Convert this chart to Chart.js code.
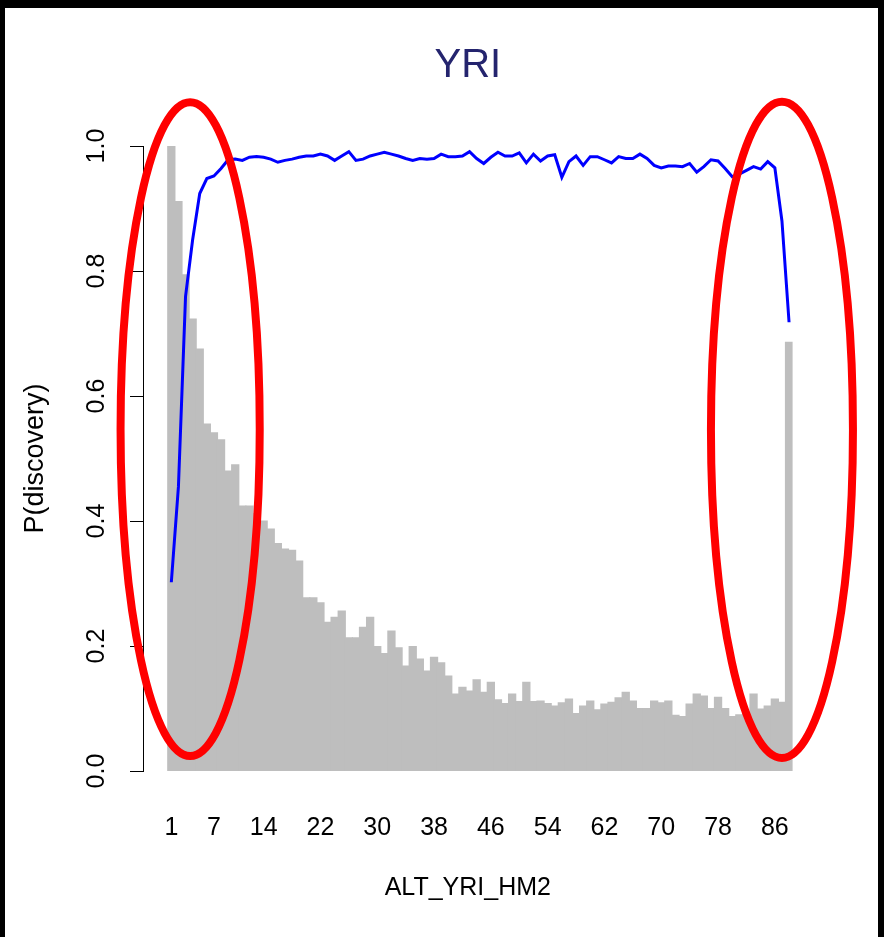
<!DOCTYPE html>
<html>
<head>
<meta charset="utf-8">
<script src="https://cdn.jsdelivr.net/npm/chart.js@4.4.1/dist/chart.umd.min.js"></script>
<style>
  html, body { margin: 0; padding: 0; background: #000; }
  #box { width: 884px; height: 937px; }
</style>
</head>
<body>
<div id="box"><canvas id="chart" width="884" height="937"></canvas></div>
<script>
// allele count bins (x) and the two series drawn over them
const bins = [
   1,  2,  3,  4,  5,  6,  7,  8,  9, 10, 11, 12, 13, 14, 15, 16, 17, 18, 19, 20, 21, 22,
  23, 24, 25, 26, 27, 28, 29, 30, 31, 32, 33, 34, 35, 36, 37, 38, 39, 40, 41, 42, 43, 44,
  45, 46, 47, 48, 49, 50, 51, 52, 53, 54, 55, 56, 57, 58, 59, 60, 61, 62, 63, 64, 65, 66,
  67, 68, 69, 70, 71, 72, 73, 74, 75, 76, 77, 78, 79, 80, 81, 82, 83, 84, 85, 86, 87, 88
];

// gray histogram (relative frequency)
const barValues = [
  1.000, 0.911, 0.794, 0.723, 0.675, 0.555, 0.541, 0.530, 0.480, 0.490, 0.424, 0.424,
  0.412, 0.400, 0.387, 0.364, 0.355, 0.353, 0.336, 0.277, 0.277, 0.269, 0.238, 0.246,
  0.256, 0.213, 0.213, 0.230, 0.246, 0.199, 0.188, 0.224, 0.197, 0.168, 0.199, 0.179,
  0.160, 0.182, 0.173, 0.152, 0.123, 0.134, 0.128, 0.146, 0.126, 0.142, 0.114, 0.108,
  0.123, 0.111, 0.142, 0.111, 0.112, 0.108, 0.104, 0.109, 0.115, 0.092, 0.104, 0.112,
  0.098, 0.107, 0.110, 0.117, 0.126, 0.112, 0.100, 0.100, 0.112, 0.109, 0.112, 0.089,
  0.087, 0.107, 0.123, 0.120, 0.100, 0.118, 0.100, 0.087, 0.090, 0.095, 0.123, 0.099,
  0.104, 0.115, 0.110, 0.686
];

// blue curve: P(discovery)
const discovery = [
  0.302, 0.455, 0.759, 0.850, 0.924, 0.948, 0.952, 0.964, 0.978, 0.979, 0.977, 0.982,
  0.983, 0.982, 0.979, 0.974, 0.977, 0.979, 0.982, 0.984, 0.984, 0.987, 0.984, 0.977,
  0.984, 0.991, 0.977, 0.979, 0.984, 0.987, 0.990, 0.987, 0.984, 0.980, 0.977, 0.980,
  0.979, 0.980, 0.987, 0.983, 0.983, 0.984, 0.991, 0.980, 0.972, 0.982, 0.990, 0.984,
  0.984, 0.989, 0.973, 0.987, 0.976, 0.984, 0.986, 0.950, 0.975, 0.984, 0.969, 0.983,
  0.983, 0.978, 0.973, 0.983, 0.980, 0.980, 0.987, 0.980, 0.969, 0.965, 0.968, 0.968,
  0.967, 0.972, 0.958, 0.967, 0.978, 0.976, 0.964, 0.951, 0.955, 0.961, 0.967, 0.963,
  0.975, 0.965, 0.880, 0.718
];

const xTickLabels = [1, 7, 14, 22, 30, 38, 46, 54, 62, 70, 78, 86];
const yTickLabels = [0, 0.2, 0.4, 0.6, 0.8, 1.0];

// red rings around both tails, in axis units: centre (x, y), radii (rx in bins, ry in P)
const rings = [
  { x: 3.65, y: 0.547, rx: 9.8, ry: 0.523 },
  { x: 87.0, y: 0.546, rx: 10.0, ry: 0.525 }
];

const FONT = "'Liberation Sans', Arial, sans-serif";

const framePlugin = {
  id: 'frame',
  beforeDraw(chart) {
    const ctx = chart.ctx;
    ctx.save();
    ctx.fillStyle = '#000';
    ctx.fillRect(0, 0, chart.width, chart.height);
    ctx.fillStyle = '#fff';
    ctx.fillRect(5, 8, chart.width - 11, chart.height - 8);
    ctx.restore();
  }
};

const ringPlugin = {
  id: 'rings',
  afterDraw(chart) {
    const ctx = chart.ctx;
    const xs = chart.scales.x, ys = chart.scales.y;
    ctx.save();
    ctx.strokeStyle = '#ff0000';
    ctx.lineWidth = 8;
    rings.forEach(r => {
      const cx = xs.getPixelForValue(r.x);
      const cy = ys.getPixelForValue(r.y);
      const rx = Math.abs(xs.getPixelForValue(r.x + r.rx) - cx);
      const ry = Math.abs(ys.getPixelForValue(r.y + r.ry) - cy);
      ctx.beginPath();
      ctx.ellipse(cx, cy, rx, ry, 0, 0, Math.PI * 2);
      ctx.stroke();
    });
    ctx.restore();
  }
};

new Chart(document.getElementById('chart'), {
  type: 'bar',
  data: {
    datasets: [
      {
        type: 'line',
        data: bins.map((b, i) => ({ x: b, y: discovery[i] })),
        borderColor: '#0000ff',
        borderWidth: 3,
        pointRadius: 0,
        fill: false,
        tension: 0,
        order: 0
      },
      {
        type: 'bar',
        data: bins.map((b, i) => ({ x: b, y: barValues[i] })),
        backgroundColor: '#bebebe',
        borderWidth: 0,
        inflateAmount: 0.6,
        barPercentage: 1,
        categoryPercentage: 1,
        order: 1
      }
    ]
  },
  options: {
    responsive: false,
    animation: false,
    devicePixelRatio: 1,
    layout: { padding: { left: 0, right: 91.4, top: 0, bottom: 0 } },
    plugins: {
      legend: { display: false },
      tooltip: { enabled: false },
      title: {
        display: true,
        text: 'YRI',
        fullSize: false,
        color: '#24246e',
        font: { family: FONT, size: 40, weight: 'normal' },
        padding: { top: 42, bottom: 56 }
      }
    },
    scales: {
      x: {
        type: 'linear',
        offset: false,
        min: -2.99,
        max: 88.5,
        afterBuildTicks: axis => { axis.ticks = xTickLabels.map(v => ({ value: v })); },
        afterFit: axis => { axis.height = 166; },
        grid: { display: false, drawTicks: false },
        border: { display: false },
        ticks: {
          autoSkip: false,
          maxRotation: 0,
          minRotation: 0,
          padding: 42,
          color: '#000',
          font: { family: FONT, size: 25 },
          callback: v => String(v)
        },
        title: {
          display: true,
          text: 'ALT_YRI_HM2',
          color: '#000',
          font: { family: FONT, size: 25 },
          padding: { top: 0, bottom: 34 }
        }
      },
      y: {
        min: 0,
        max: 1,
        afterBuildTicks: axis => { axis.ticks = yTickLabels.map(v => ({ value: v })); },
        afterFit: axis => { axis.width = 143; },
        grid: {
          display: true,
          drawOnChartArea: false,
          drawTicks: true,
          tickLength: 13,
          color: '#000',
          lineWidth: 1
        },
        border: { display: true, color: '#000', width: 1 },
        ticks: {
          minRotation: 90,
          maxRotation: 90,
          crossAlign: 'center',
          padding: 16,
          color: '#000',
          font: { family: FONT, size: 25 },
          callback: v => v.toFixed(1)
        },
        title: {
          display: true,
          text: 'P(discovery)',
          color: '#000',
          font: { family: FONT, size: 27 },
          padding: { top: 19, bottom: 0 }
        }
      }
    }
  },
  plugins: [framePlugin, ringPlugin]
});
</script>
</body>
</html>
